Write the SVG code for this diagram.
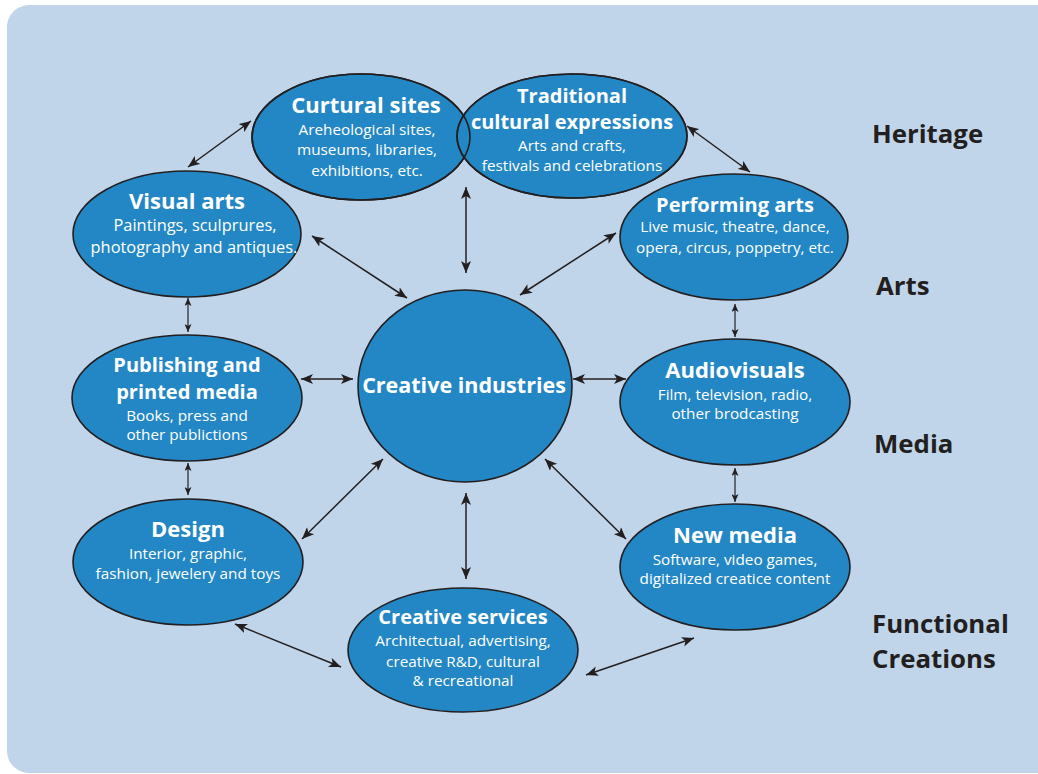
<svg xmlns="http://www.w3.org/2000/svg" width="1038" height="774" viewBox="0 0 1038 774">
<defs>
<style>
.node{fill:#2387c5;stroke:#231f20;stroke-width:1.6}
.outline{fill:none;stroke:#231f20;stroke-width:1.6}
.t{font-family:"Open Sans","Noto Sans","Liberation Sans",sans-serif;font-weight:700;font-size:22px;fill:#ffffff;text-anchor:middle}
.t2{font-size:20px}
.s{font-family:"Open Sans","Noto Sans","Liberation Sans",sans-serif;font-weight:400;font-size:15.3px;fill:#ffffff;text-anchor:middle}
.s2{font-size:16.4px}
.cat{font-family:"Open Sans","Noto Sans","Liberation Sans",sans-serif;font-weight:700;font-size:25.8px;fill:#231f20}
.c{stroke:#231f20;stroke-width:1.5;fill:none;marker-start:url(#ah);marker-end:url(#ah)}
.cs{stroke:#231f20;stroke-width:1.2;fill:none;marker-start:url(#ahs);marker-end:url(#ahs)}
</style>
<marker id="ah" viewBox="0 0 12 10" refX="12" refY="5" markerWidth="12" markerHeight="10" markerUnits="userSpaceOnUse" orient="auto-start-reverse">
<path d="M0,0 L12,5 L0,10 L3,5 Z" fill="#231f20"/>
</marker>
<marker id="ahs" viewBox="0 0 8 7" refX="8" refY="3.5" markerWidth="8" markerHeight="7" markerUnits="userSpaceOnUse" orient="auto-start-reverse">
<path d="M0,0 L8,3.5 L0,7 L2,3.5 Z" fill="#231f20"/>
</marker>
</defs>
<rect x="7" y="5" width="1060" height="768" rx="22" ry="22" fill="#c1d5ea"/>

<g id="connectors">
<line class="c" x1="251" y1="121" x2="188" y2="167"/>
<line class="c" x1="312" y1="236" x2="407" y2="298"/>
<line class="c" x1="466" y1="187" x2="466" y2="273"/>
<line class="c" x1="687" y1="126" x2="750" y2="172"/>
<line class="c" x1="616" y1="233" x2="520" y2="295"/>
<line class="cs" x1="188" y1="298" x2="188" y2="332"/>
<line class="c" x1="301" y1="379" x2="353" y2="379"/>
<line class="cs" x1="188" y1="463" x2="188" y2="495"/>
<line class="c" x1="302" y1="539" x2="383" y2="459"/>
<line class="cs" x1="735" y1="304" x2="735" y2="337"/>
<line class="c" x1="573" y1="379" x2="626" y2="379"/>
<line class="cs" x1="735" y1="468" x2="735" y2="502"/>
<line class="c" x1="545" y1="459" x2="626" y2="539"/>
<line class="c" x1="466" y1="493" x2="466" y2="579"/>
<line class="c" x1="235" y1="624" x2="341" y2="667"/>
<line class="c" x1="586" y1="675" x2="694" y2="638"/>
</g>

<g id="cultural-sites">
<ellipse class="node" cx="361" cy="137" rx="109" ry="63"/>
<text class="t" x="366" y="113">Curtural sites</text>
<text class="s" x="367" y="135">Areheological sites,</text>
<text class="s" x="367" y="155">museums, libraries,</text>
<text class="s" x="367" y="176">exhibitions, etc.</text>
</g>

<g id="traditional">
<ellipse class="node" cx="572" cy="136" rx="115" ry="62"/>
<ellipse class="outline" cx="361" cy="137" rx="109" ry="63"/>
<ellipse class="outline" cx="572" cy="136" rx="115" ry="62"/>
<text class="t t2" x="572" y="103">Traditional</text>
<text class="t t2" x="572" y="129">cultural expressions</text>
<text class="s" x="572" y="151">Arts and crafts,</text>
<text class="s" x="572" y="171">festivals and celebrations</text>
</g>

<g id="visual-arts">
<ellipse class="node" cx="187" cy="234" rx="114" ry="63"/>
<text class="t" x="187" y="209">Visual arts</text>
<text class="s s2" x="195" y="231">Paintings, sculprures,</text>
<text class="s s2" x="194" y="253">photography and antiques.</text>
</g>

<g id="performing-arts">
<ellipse class="node" cx="734" cy="237" rx="114" ry="63"/>
<text class="t t2" x="735" y="212">Performing arts</text>
<text class="s" x="735" y="232">Live music, theatre, dance,</text>
<text class="s" x="735" y="253">opera, circus, poppetry, etc.</text>
</g>

<g id="publishing">
<ellipse class="node" cx="187" cy="398" rx="115" ry="63"/>
<text class="t t2" x="187" y="372">Publishing and</text>
<text class="t t2" x="187" y="399">printed media</text>
<text class="s" x="187" y="421">Books, press and</text>
<text class="s" x="187" y="440">other publictions</text>
</g>

<g id="creative-industries">
<ellipse class="node" cx="465" cy="386" rx="107" ry="96"/>
<text class="t" x="464" y="393" style="font-size:21.5px">Creative industries</text>
</g>

<g id="audiovisuals">
<ellipse class="node" cx="735" cy="402" rx="115" ry="63"/>
<text class="t" x="735" y="378">Audiovisuals</text>
<text class="s" x="735" y="400">Film, television, radio,</text>
<text class="s" x="735" y="419">other brodcasting</text>
</g>

<g id="design">
<ellipse class="node" cx="188" cy="562" rx="115" ry="63"/>
<text class="t" x="188" y="537">Design</text>
<text class="s" x="188" y="559">Interior, graphic,</text>
<text class="s" x="188" y="579">fashion, jewelery and toys</text>
</g>

<g id="new-media">
<ellipse class="node" cx="735" cy="567" rx="115" ry="63"/>
<text class="t" x="735" y="543">New media</text>
<text class="s" x="735" y="565">Software, video games,</text>
<text class="s" x="735" y="584">digitalized creatice content</text>
</g>

<g id="creative-services">
<ellipse class="node" cx="463" cy="650" rx="115" ry="62"/>
<text class="t t2" x="463" y="624">Creative services</text>
<text class="s" x="463" y="646">Architectual, advertising,</text>
<text class="s" x="463" y="667">creative R&amp;D, cultural</text>
<text class="s" x="463" y="686">&amp; recreational</text>
</g>

<g id="categories">
<text class="cat" x="872" y="143">Heritage</text>
<text class="cat" x="876" y="295">Arts</text>
<text class="cat" x="874" y="453">Media</text>
<text class="cat" x="872" y="633">Functional</text>
<text class="cat" x="872" y="668">Creations</text>
</g>
</svg>
